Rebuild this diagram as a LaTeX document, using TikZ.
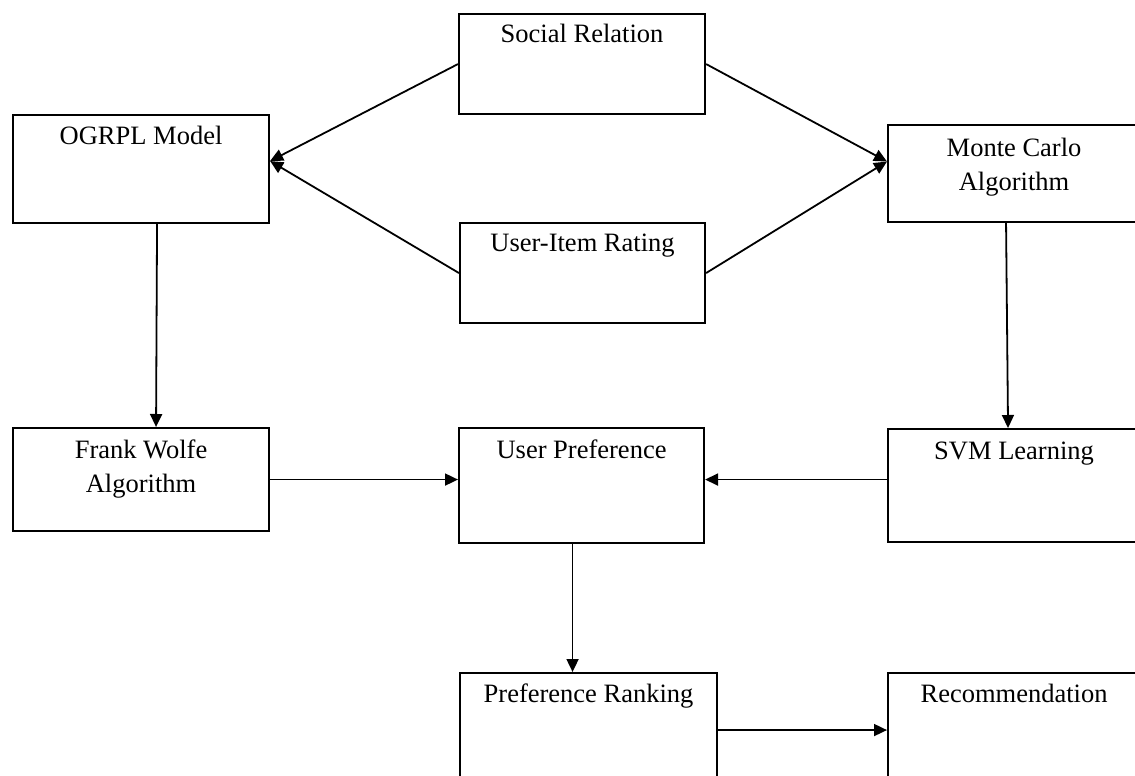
\documentclass[tikz,border=0pt]{standalone}
\usepackage{fontspec}
\setmainfont{Liberation Serif}
\usetikzlibrary{arrows.meta,calc}
\begin{document}
\begin{tikzpicture}[x=1pt,y=-1pt,
  box/.style={draw, line width=2.1pt, anchor=north west, inner sep=0pt},
  ttl/.style={font=\fontsize{26.5}{34}\selectfont, align=center, inner sep=0pt, anchor=base},
  conn/.style={line width=1.8pt, -{Triangle[length=13pt,width=12pt]}}]
\useasboundingbox (0,0) rectangle (1135,776);
% boxes
\node[box, minimum width=246pt, minimum height=100pt] (sr)  at (458,13) {};
\node[box, minimum width=256pt, minimum height=108pt] (og)  at (12,114) {};
\node[box, minimum width=245pt, minimum height=100pt] (ui)  at (459,222) {};
\node[box, minimum width=252pt, minimum height=97pt]  (mc)  at (887,124) {};
\node[box, minimum width=256pt, minimum height=103pt] (fw)  at (12,427) {};
\node[box, minimum width=245pt, minimum height=115pt] (up)  at (458,427) {};
\node[box, minimum width=252pt, minimum height=113pt] (svm) at (887,428) {};
\node[box, minimum width=257pt, minimum height=114pt] (pr)  at (459,672) {};
\node[box, minimum width=252pt, minimum height=114pt] (rec) at (887,672) {};
% titles
\node[ttl] (srt)  at ([yshift=-30pt]sr.north)  {Social Relation};
\node[ttl] (ogt)  at ([yshift=-30pt]og.north)  {OGRPL Model};
\node[ttl] (uit)  at ([yshift=-29pt]ui.north)  {User-Item Rating};
\node[ttl] (mct)  at ([yshift=-66pt]mc.north)  {Monte Carlo\\Algorithm};
\node[ttl] (fwt)  at ([yshift=-65pt]fw.north)  {Frank Wolfe\\Algorithm};
\node[ttl] (upt)  at ([yshift=-31pt]up.north)  {User Preference};
\node[ttl] (svmt) at ([yshift=-31pt]svm.north) {SVM Learning};
\node[ttl] (prt)  at ([yshift=-30pt]pr.north)  {Preference Ranking};
\node[ttl] (rect) at ([yshift=-30pt]rec.north) {Recommendation};
% connectors
\draw[conn] (sr.west) -- ([yshift=8pt]og.east);
\draw[conn] (ui.west) -- ([yshift=8pt]og.east);
\draw[conn] (sr.east) -- ([yshift=12pt]mc.west);
\draw[conn] (ui.east) -- ([yshift=12pt]mc.west);
\draw[conn] ([xshift=16pt]og.south) -- ([xshift=15pt]fw.north);
\draw[conn] ([xshift=-8pt]mc.south) -- ([xshift=-6pt]svm.north);
\draw[conn] (fw.east) -- (fw.east -| up.west);
\draw[conn] ([yshift=6pt]svm.west) -- ([yshift=6pt]svm.west -| up.east);
\draw[conn] ([xshift=-9pt]up.south) -- ([xshift=-9pt]up.south |- pr.north);
\draw[conn] (pr.east) -- (pr.east -| rec.west);
\end{tikzpicture}
\end{document}
